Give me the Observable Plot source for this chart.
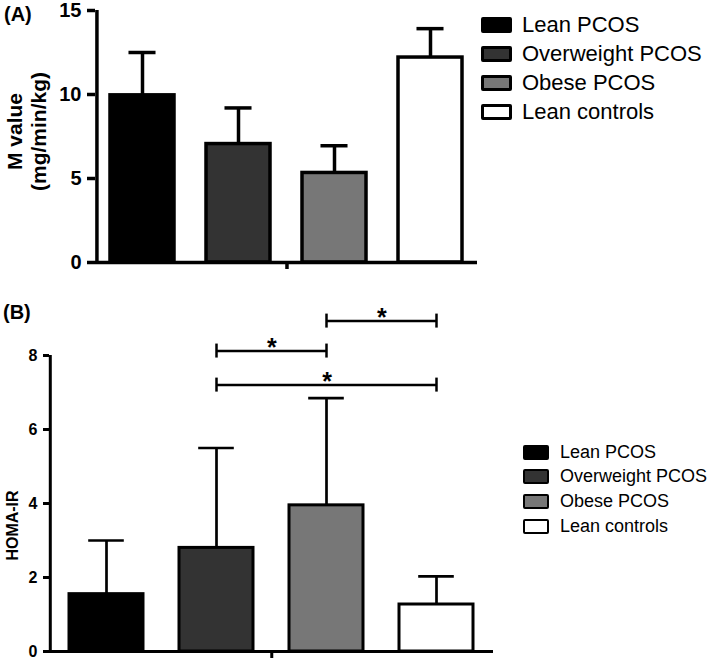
<!DOCTYPE html>
<html>
<head>
<meta charset="utf-8">
<script src="https://cdn.jsdelivr.net/npm/d3@7"></script>
<script src="https://cdn.jsdelivr.net/npm/@observablehq/plot@0.6"></script>
<style>
  body { margin: 0; background: #fff; }
  #root { position: relative; width: 709px; height: 660px; overflow: hidden;
          font-family: "Liberation Sans", Arial, sans-serif; color: #000; }
  .abs { position: absolute; }
  .panel-label { font-weight: bold; font-size: 20px; line-height: 1; }
  .lg-row { position: absolute; display: flex; align-items: center; white-space: nowrap; }
  .lg-sw { box-sizing: border-box; border-style: solid; border-color: #000; border-radius: 2px; }
</style>
</head>
<body>
<div id="root"></div>
<script>
// ---------- data ----------
const groups = ["Lean PCOS", "Overweight PCOS", "Obese PCOS", "Lean controls"];
const groupFills = ["#000000", "#333333", "#777777", "#ffffff"];

// Panel A: M value (mg/min/kg), mean and SD
const mValueMean = [9.95, 7.05, 5.33, 12.2];
const mValueSD = [2.55, 2.15, 1.62, 1.72];
const mValueTicks = [0, 5, 10, 15];

// Panel B: HOMA-IR, mean and SD
const homaMean = [1.55, 2.8, 3.95, 1.27];
const homaSD = [1.45, 2.7, 2.9, 0.76];
const homaTicks = [0, 2, 4, 6, 8];

// Panel B significance brackets
const sigFrom = ["Overweight PCOS", "Overweight PCOS", "Obese PCOS"];
const sigTo = ["Obese PCOS", "Lean controls", "Lean controls"];
const sigLevel = [8.12, 7.2, 8.93];
const sigLabel = ["*", "*", "*"];

const FONT = '"Liberation Sans", Arial, sans-serif';
const root = document.getElementById("root");

function barPanel(o) {
  const data = groups.map((g, i) => ({group: g, mean: o.mean[i], upper: o.mean[i] + o.sd[i]}));
  const n = groups.length;
  const r0 = o.marginLeft, r1 = o.width - o.marginRight;
  const step = (r1 - r0) / (n - o.paddingInner + 2 * o.paddingOuter);
  const bw = step * (1 - o.paddingInner);
  const firstCenter = o.paddingOuter * step + bw / 2;
  const capInset = (bw - o.capWidth) / 2;
  const marks = [
    Plot.ruleX(data, {x: "group", y1: "mean", y2: "upper", stroke: "#000", strokeWidth: o.errStroke}),
    Plot.tickY(data, {x: "group", y: "upper", stroke: "#000", strokeWidth: o.errStroke,
                      insetLeft: capInset, insetRight: capInset}),
    Plot.barY(data, {x: "group", y: "mean", fill: "group", stroke: "#000", strokeWidth: o.barStroke}),
    Plot.ruleY([o.yDomain[0]], {stroke: "#000", strokeWidth: o.axisStroke}),
    Plot.ruleX([groups[0]], {x: d => d, y1: o.yDomain[0], y2: o.yDomain[1], dx: -firstCenter,
                             stroke: "#000", strokeWidth: o.axisStroke}),
    Plot.ruleX([groups[1]], {x: d => d, y1: o.yDomain[0], y2: o.yDomain[0], dx: step / 2,
                             insetBottom: -o.xTick, stroke: "#000", strokeWidth: o.axisStroke}),
    Plot.axisY({ticks: o.ticks, tickSize: o.tickSize, tickPadding: o.tickPadding,
                fontSize: o.tickFont, fontWeight: "bold", strokeWidth: o.axisStroke, label: null}),
    Plot.text([o.yLabel], {frameAnchor: "left", rotate: -90, dx: o.labelDx, dy: o.labelDy,
                           fontSize: o.labelFont, fontWeight: "bold", lineHeight: o.labelLineHeight,
                           textAnchor: "middle", lineAnchor: "middle"})
  ];
  if (o.brackets) {
    const br = o.brackets;
    marks.push(
      Plot.link(br, {x1: "from", x2: "to", y1: "level", y2: "level", stroke: "#000", strokeWidth: 2.5}),
      Plot.ruleX(br, {x: "from", y1: "level", y2: "level", insetTop: -7, insetBottom: -7, stroke: "#000", strokeWidth: 2.5}),
      Plot.ruleX(br, {x: "to", y1: "level", y2: "level", insetTop: -7, insetBottom: -7, stroke: "#000", strokeWidth: 2.5}),
      ...br.map(b => Plot.text([b], {x: "from", y: "level", text: "label",
        dx: (groups.indexOf(b.to) - groups.indexOf(b.from)) * step / 2, dy: -3,
        fontSize: 25, fontWeight: "bold", textAnchor: "middle", lineAnchor: "middle"}))
    );
  }
  return Plot.plot({
    width: o.width, height: o.height,
    marginLeft: o.marginLeft, marginRight: o.marginRight,
    marginTop: o.marginTop, marginBottom: o.marginBottom,
    style: {fontFamily: FONT, background: "transparent", overflow: "visible", color: "#000"},
    x: {type: "band", domain: groups, paddingInner: o.paddingInner, paddingOuter: o.paddingOuter, axis: null},
    y: {domain: o.yDomain, axis: null},
    color: {domain: groups, range: groupFills},
    marks
  });
}

function place(el, left, top) {
  el.classList.add("abs");
  el.style.left = left + "px";
  el.style.top = top + "px";
  root.appendChild(el);
}

function legend(o) {
  groups.forEach((g, i) => {
    const row = document.createElement("div");
    row.className = "lg-row";
    row.style.left = o.left + "px";
    row.style.top = (o.firstCenter + i * o.rowGap - o.rowH / 2) + "px";
    row.style.height = o.rowH + "px";
    const sw = document.createElement("div");
    sw.className = "lg-sw";
    sw.style.width = o.swW + "px";
    sw.style.height = o.swH + "px";
    sw.style.borderWidth = o.border + "px";
    sw.style.background = groupFills[i];
    const tx = document.createElement("span");
    tx.textContent = g;
    tx.style.fontSize = o.fontSize + "px";
    tx.style.marginLeft = o.gap + "px";
    row.appendChild(sw);
    row.appendChild(tx);
    root.appendChild(row);
  });
}

// ---------- Panel A ----------
const plotA = barPanel({
  mean: mValueMean, sd: mValueSD, yDomain: [0, 15], ticks: mValueTicks,
  width: 480, height: 280, marginLeft: 95, marginRight: 3, marginTop: 10, marginBottom: 18,
  paddingInner: 0.33, paddingOuter: 0.135,
  barStroke: 3.5, errStroke: 3.5, capWidth: 28, axisStroke: 3.5, xTick: 7,
  tickFont: 20, tickSize: 8, tickPadding: 6,
  yLabel: "M value\n(mg/min/kg)", labelDx: -69, labelDy: -5, labelFont: 21, labelLineHeight: 1.15
});
place(plotA, 0, 0);

// ---------- Panel B ----------
const bracketRows = sigFrom.map((f, i) => ({from: f, to: sigTo[i], level: sigLevel[i], label: sigLabel[i]}));
const plotB = barPanel({
  mean: homaMean, sd: homaSD, yDomain: [0, 8], ticks: homaTicks,
  width: 500, height: 370, marginLeft: 49, marginRight: 7, marginTop: 65, marginBottom: 9,
  paddingInner: 0.327, paddingOuter: 0.172,
  barStroke: 3, errStroke: 2.7, capWidth: 36, axisStroke: 3, xTick: 7,
  tickFont: 16, tickSize: 6, tickPadding: 6,
  yLabel: "HOMA-IR", labelDx: -37, labelDy: 22, labelFont: 16, labelLineHeight: 1,
  brackets: bracketRows
});
place(plotB, 0, 290);

// ---------- panel labels ----------
const la = document.createElement("div"); la.className = "panel-label"; la.textContent = "(A)"; place(la, 4, 4);
const lb = document.createElement("div"); lb.className = "panel-label"; lb.textContent = "(B)"; place(lb, 3, 302);

// ---------- legends ----------
legend({left: 481, firstCenter: 25, rowGap: 29, rowH: 28, swW: 31, swH: 16, border: 3, gap: 10, fontSize: 22});
legend({left: 523, firstCenter: 452, rowGap: 24.7, rowH: 24, swW: 26, swH: 15, border: 2.5, gap: 11, fontSize: 18});
</script>
</body>
</html>
